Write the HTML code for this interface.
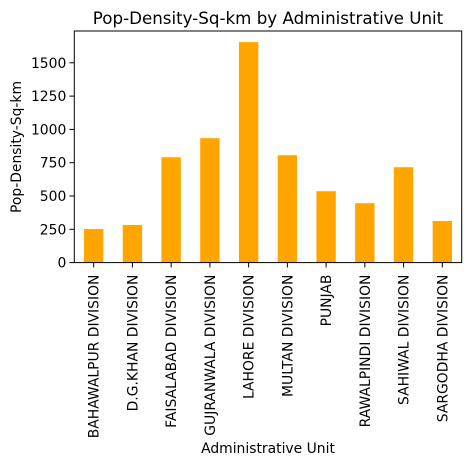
<!DOCTYPE html>
<html><head><meta charset="utf-8"><style>
body{margin:0;background:#fff;}
svg{display:block;font-family:"DejaVu Sans","Liberation Sans",sans-serif;}
</style></head><body>
<svg id="chart" width="471" height="465" viewBox="0 0 471 465">
<text x="268" y="24" font-size="16.7" text-anchor="middle">Pop-Density-Sq-km by Administrative Unit</text>
<g id="bars"></g><g id="yaxis"></g><g id="xaxis"></g>
<rect x="74.3" y="31" width="387.4" height="231.6" fill="none" stroke="#000" stroke-width="1"/>
<text transform="translate(21,147) rotate(-90)" font-size="13.9" text-anchor="middle">Pop-Density-Sq-km</text>
<text x="268" y="453" font-size="13.9" text-anchor="middle">Administrative Unit</text>
</svg>
<script>
const categories=["BAHAWALPUR DIVISION","D.G.KHAN DIVISION","FAISALABAD DIVISION","GUJRANWALA DIVISION","LAHORE DIVISION","MULTAN DIVISION","PUNJAB","RAWALPINDI DIVISION","SAHIWAL DIVISION","SARGODHA DIVISION"];
const values=[252,282,791,934,1655,806,536,446,716,312];
const yTicks=[0,250,500,750,1000,1250,1500];
const NS="http://www.w3.org/2000/svg";
const L=74.3,R=461.7,B=262.6,pxPer=33.3/250;
const step=(R-L)/categories.length;
function xPos(i){return L+step*(i+0.5);}
function yPos(v){return B-v*pxPer;}
function mk(t,a,p){const e=document.createElementNS(NS,t);for(const k in a)e.setAttribute(k,a[k]);p.appendChild(e);return e;}
const gb=document.getElementById('bars'),gy=document.getElementById('yaxis'),gx=document.getElementById('xaxis');
values.forEach((v,i)=>{
 const r=mk('rect',{x:xPos(i)-step*0.25,y:yPos(v),width:step*0.5,height:B-yPos(v),fill:'#ffa500'},gb);
 
 
 const t=mk('line',{x1:xPos(i),x2:xPos(i),y1:B,y2:B+4.9,stroke:'#000'},gx);
 
 
 const lx=xPos(i)+5,ly=B+12;
 const tx=mk('text',{x:lx,y:ly,'font-size':13.9,'text-anchor':'end',transform:`rotate(-90 ${lx} ${ly})`},gx);
 tx.textContent=categories[i];
 
 
});
yTicks.forEach(v=>{
 const y=yPos(v);
 const t=mk('line',{x1:L-4.9,x2:L,y1:y,y2:y,stroke:'#000'},gy);
 
 
 const tx=mk('text',{x:L-8,y:y+5,'font-size':13.9,'text-anchor':'end'},gy);
 tx.textContent=v;
 
 
});
</script>
</body></html>
